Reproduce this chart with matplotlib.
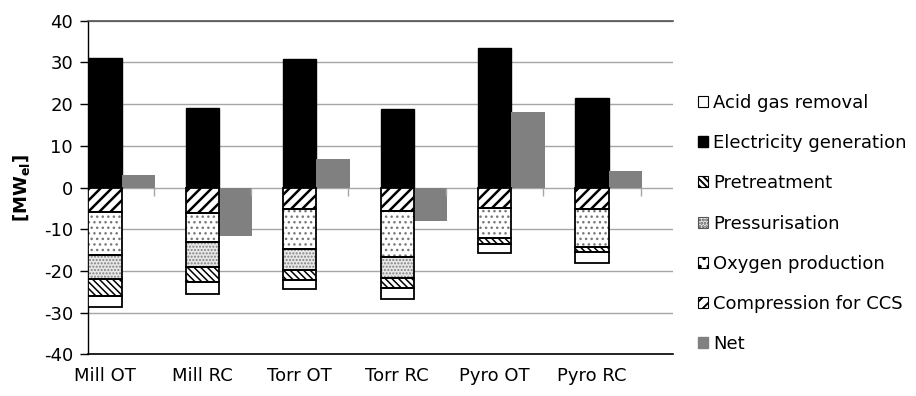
import numpy as np
import matplotlib
matplotlib.use("Agg")
import matplotlib.pyplot as plt
from matplotlib.patches import Patch

categories = ['Mill OT', 'Mill RC', 'Torr OT', 'Torr RC', 'Pyro OT', 'Pyro RC']
electricity = [31.0, 19.0, 30.8, 18.8, 33.4, 21.5]
compression_ccs = [-5.75, -6.1, -5.1, -5.5, -4.8, -5.1]
oxygen_production = [-10.4, -7.0, -9.6, -11.2, -7.35, -9.2]
pressurisation = [-5.75, -5.85, -5.0, -5.0, 0.0, 0.0]
pretreatment = [-4.0, -3.6, -2.4, -2.4, -1.35, -1.05]
acid_gas_removal = [-2.6, -2.95, -2.2, -2.6, -2.25, -2.65]
net = [3.0, -11.6, 6.8, -8.0, 18.1, 3.9]
yticks = [-40, -30, -20, -10, 0, 10, 20, 30, 40]

plt.rcParams['font.family'] = ['DejaVu Sans']
plt.rcParams['mathtext.fontset'] = 'dejavusans'
plt.rcParams['hatch.linewidth'] = 1.4

FS = 13
fig = plt.figure(figsize=(9.16, 3.96), dpi=100)
ax = fig.add_axes([0.0964, 0.1048, 0.6380, 0.8429])

x = np.arange(len(categories))
w = 0.342

styles = {
    'Compression for CCS': dict(face='white', hatch='///', hc='black', hlw=1.8),
    'Oxygen production': dict(face='white', hatch='...', hc='#777777', hlw=1.0),
    'Pressurisation': dict(face='#e8e8e8', hatch='.....', hc='#808080', hlw=1.0),
    'Pretreatment': dict(face='white', hatch='\\\\\\\\\\', hc='black', hlw=1.1),
    'Acid gas removal': dict(face='white', hatch=None, hc='black', hlw=1.0),
}
segments = [('Compression for CCS', compression_ccs),
            ('Oxygen production', oxygen_production),
            ('Pressurisation', pressurisation),
            ('Pretreatment', pretreatment),
            ('Acid gas removal', acid_gas_removal)]

ax.bar(x, electricity, width=w, color='black', edgecolor='black', linewidth=1.0, zorder=3)

bottom = np.zeros(len(categories))
for name, vals in segments:
    vals = np.array(vals)
    st = styles[name]
    bars = ax.bar(x, vals, width=w, bottom=bottom, color=st['face'],
                  edgecolor=st['hc'], linewidth=0, hatch=st['hatch'], zorder=3)
    for b in bars:
        if hasattr(b, 'set_hatch_linewidth'):
            b.set_hatch_linewidth(st['hlw'])
    ax.bar(x, vals, width=w, bottom=bottom, fill=False, edgecolor='black',
           linewidth=1.3, zorder=4)
    bottom = bottom + vals

ax.bar(x + w, net, width=w, color='#808080', edgecolor='#808080', linewidth=0, zorder=3)

ax.set_xlim(-w / 2, len(categories) - w / 2)
ax.set_ylim(-40, 40)
ax.set_yticks(yticks)
ax.set_yticklabels([str(v) for v in yticks], fontsize=FS)
ax.yaxis.grid(True, color='#a6a6a6', linewidth=1.0, zorder=0)
ax.set_axisbelow(True)
ax.set_xticks(x)
ax.set_xticklabels(categories, fontsize=FS)
ax.tick_params(axis='x', length=0, pad=9)
ax.tick_params(axis='y', direction='out', length=6, width=1.0, pad=5, color='black')
ax.spines['right'].set_visible(False)
ax.spines['top'].set_color('#505050')
ax.spines['top'].set_linewidth(1.2)
ax.spines['left'].set_color('black')
ax.spines['bottom'].set_color('black')
ax.spines['left'].set_linewidth(1.0)
ax.spines['bottom'].set_linewidth(1.2)

# secondary category axis crossing at zero (tick marks only)
ax2 = ax.twiny()
ax2.set_xlim(ax.get_xlim())
ax2.spines['bottom'].set_position(('data', 0))
for s in ['top', 'right', 'left', 'bottom']:
    ax2.spines[s].set_visible(False)
ax2.xaxis.set_ticks_position('bottom')
ax2.set_xticks(list(x + 0.5))
ax2.set_xticklabels([])
ax2.tick_params(axis='x', direction='out', length=6, width=1.0, color='#a6a6a6')

ax.set_ylabel('[MW$_{\\mathbf{el}}$]', fontsize=FS, fontweight='bold')
ax.yaxis.set_label_coords(-0.097, 0.5)

handles = [
    Patch(facecolor='white', edgecolor='black', linewidth=0.8, label='Acid gas removal'),
    Patch(facecolor='black', edgecolor='black', label='Electricity generation'),
    Patch(facecolor='white', edgecolor='black', hatch='\\\\\\\\\\', linewidth=0.8, label='Pretreatment'),
    Patch(facecolor='#e8e8e8', edgecolor='#555555', hatch='.....', linewidth=0.8, label='Pressurisation'),
    Patch(facecolor='white', edgecolor='black', hatch='..', linewidth=0.8, label='Oxygen production'),
    Patch(facecolor='white', edgecolor='black', hatch='///', linewidth=0.8, label='Compression for CCS'),
    Patch(facecolor='#808080', edgecolor='#808080', label='Net'),
]
fig.legend(handles=handles, loc='center left', bbox_to_anchor=(698 / 916, 1 - 223.5 / 396),
           frameon=False, fontsize=FS, handlelength=0.55, handleheight=0.55,
           handletextpad=0.3, labelspacing=1.23, borderpad=0, borderaxespad=0)

fig.savefig('out.png', dpi=100)
